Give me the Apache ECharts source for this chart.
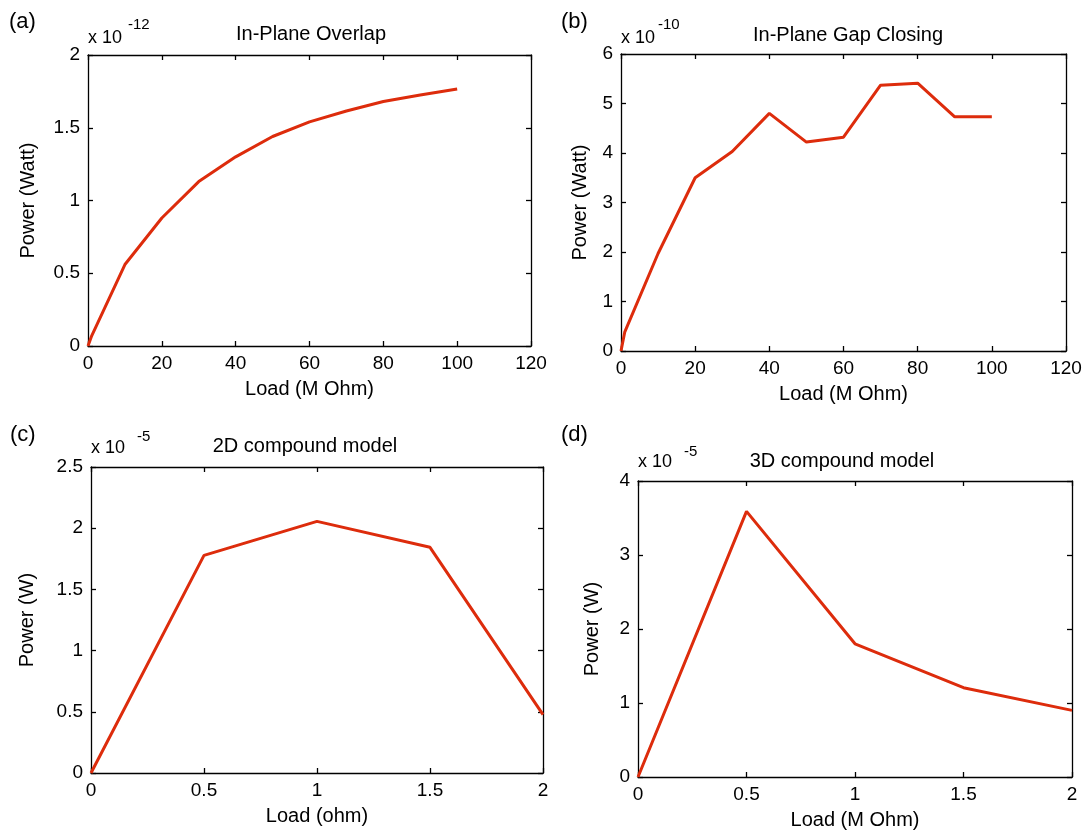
<!DOCTYPE html>
<html>
<head>
<meta charset="utf-8">
<script src="https://cdn.jsdelivr.net/npm/echarts@6/dist/echarts.min.js"></script>
<style>
  html, body { margin: 0; padding: 0; background: #fff; }
  #main { width: 1086px; height: 832px; }
</style>
</head>
<body>
<div id="main"></div>
<script>
// (a) In-Plane Overlap, power x 1e-12 W
const loadA = [0, 1, 10, 20, 30, 40, 50, 60, 70, 80, 90, 100]
const powerA = [0, 0.07, 0.56, 0.88, 1.13, 1.30, 1.44, 1.54, 1.615, 1.68, 1.725, 1.767]
// (b) In-Plane Gap Closing, power x 1e-10 W
const loadB = [0, 1, 10, 20, 30, 40, 50, 60, 70, 80, 90, 100]
const powerB = [0, 0.38, 1.97, 3.5, 4.03, 4.8, 4.22, 4.32, 5.37, 5.41, 4.73, 4.73]
// (c) 2D compound model, power x 1e-5 W
const loadC = [0, 0.5, 1, 1.5, 2]
const powerC = [0, 1.778, 2.056, 1.844, 0.477]
// (d) 3D compound model, power x 1e-5 W
const loadD = [0, 0.5, 1, 1.5, 2]
const powerD = [0, 3.59, 1.80, 1.207, 0.90]

const titles = ['In-Plane Overlap', 'In-Plane Gap Closing', '2D compound model', '3D compound model']
const letters = ['(a)', '(b)', '(c)', '(d)']
const exponents = ['-12', '-10', '-5', '-5']
const xNames = ['Load (M Ohm)', 'Load (M Ohm)', 'Load (ohm)', 'Load (M Ohm)']
const yNames = ['Power (Watt)', 'Power (Watt)', 'Power (W)', 'Power (W)']

const FONT = '"Liberation Sans", Arial, sans-serif'
const RED = '#dd2c0c'

const grids = [
  { left: 88, top: 55, width: 443, height: 291 },
  { left: 621, top: 54, width: 445, height: 297 },
  { left: 91, top: 467, width: 452, height: 306 },
  { left: 638, top: 481, width: 434, height: 296 }
]
const xRange = [[0, 120, 20], [0, 120, 20], [0, 2, 0.5], [0, 2, 0.5]]
const yRange = [[0, 2, 0.5], [0, 6, 1], [0, 2.5, 0.5], [0, 4, 1]]
const yNameGap = [50, 31, 54, 36]

const xAxis = []
const yAxis = []
const series = []
const data = [[loadA, powerA], [loadB, powerB], [loadC, powerC], [loadD, powerD]]

const lineStyle = { color: '#000', width: 1.3 }
const tickStyle = { inside: true, length: 5, lineStyle: { color: '#000', width: 1.3 } }

for (let i = 0; i < 4; i++) {
  const [x0, x1, xi] = xRange[i]
  const [y0, y1, yi] = yRange[i]
  xAxis.push({
    gridIndex: i, type: 'value', min: x0, max: x1, interval: xi, position: 'bottom',
    name: xNames[i], nameLocation: 'middle', nameGap: 33,
    nameTextStyle: { fontFamily: FONT, fontSize: 20, color: '#000' },
    axisLine: { show: true, onZero: false, lineStyle },
    axisTick: tickStyle,
    axisLabel: { fontFamily: FONT, fontSize: 19, color: '#000', margin: 8 },
    splitLine: { show: false }
  })
  xAxis.push({
    gridIndex: i, type: 'value', min: x0, max: x1, interval: xi, position: 'top',
    axisLine: { show: true, onZero: false, lineStyle },
    axisTick: tickStyle, axisLabel: { show: false }, splitLine: { show: false }
  })
  yAxis.push({
    gridIndex: i, type: 'value', min: y0, max: y1, interval: yi, position: 'left',
    name: yNames[i], nameLocation: 'middle', nameGap: yNameGap[i],
    nameTextStyle: { fontFamily: FONT, fontSize: 20, color: '#000' },
    axisLine: { show: true, onZero: false, lineStyle },
    axisTick: tickStyle,
    axisLabel: { fontFamily: FONT, fontSize: 19, color: '#000', margin: 8 },
    splitLine: { show: false }
  })
  yAxis.push({
    gridIndex: i, type: 'value', min: y0, max: y1, interval: yi, position: 'right',
    axisLine: { show: true, onZero: false, lineStyle },
    axisTick: tickStyle, axisLabel: { show: false }, splitLine: { show: false }
  })
  const [xs, ys] = data[i]
  series.push({
    type: 'line', xAxisIndex: i * 2, yAxisIndex: i * 2,
    data: xs.map((x, k) => [x, ys[k]]),
    showSymbol: false, symbol: 'none',
    lineStyle: { color: RED, width: 3 },
    clip: false, animation: false
  })
}

const titlePos = [[306, 31], [843, 32], [300, 443], [837, 458]]
const letterPos = [[9, 24], [561, 24], [10, 437], [561, 437]]
const basePos = [[88, 39], [621, 39], [91, 449], [638, 463]]
const expPos = [[128, 25], [658, 25], [137, 437], [684, 452]]

const title = titlePos.map((p, i) => ({
  text: titles[i], left: p[0], top: p[1] - 12, textAlign: 'center',
  textStyle: { fontFamily: FONT, fontSize: 20, fontWeight: 'normal', color: '#000' }
}))

const graphic = []
for (let i = 0; i < 4; i++) {
  graphic.push({
    type: 'text', left: letterPos[i][0], top: letterPos[i][1] - 13,
    style: { text: letters[i], font: '22px ' + FONT, fill: '#000' }
  })
  graphic.push({
    type: 'text', left: basePos[i][0], top: basePos[i][1] - 10,
    style: { text: 'x 10', font: '18px ' + FONT, fill: '#000' }
  })
  graphic.push({
    type: 'text', left: expPos[i][0], top: expPos[i][1] - 8,
    style: { text: exponents[i], font: '15px ' + FONT, fill: '#000' }
  })
}

const chart = echarts.init(document.getElementById('main'))
chart.setOption({
  backgroundColor: '#fff',
  animation: false,
  title,
  grid: grids,
  xAxis,
  yAxis,
  series,
  graphic
})
</script>
</body>
</html>
